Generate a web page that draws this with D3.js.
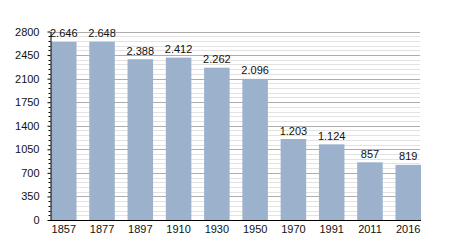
<!DOCTYPE html>
<html>
<head>
<meta charset="utf-8">
<script src="https://cdn.jsdelivr.net/npm/d3@7"></script>
<style>
  body { margin: 0; background: #fff; }
  svg { font-family: "Liberation Sans", Arial, sans-serif; }
</style>
</head>
<body>
<script>
const years = ["1857", "1877", "1897", "1910", "1930", "1950", "1970", "1991", "2011", "2016"];
const population = [2646, 2648, 2388, 2412, 2262, 2096, 1203, 1124, 857, 819];
const yTicks = [0, 350, 700, 1050, 1400, 1750, 2100, 2450, 2800];

const width = 450;
const height = 250;
const svg = d3.select("body").append("svg")
  .attr("width", width)
  .attr("height", height);

const x = d3.scaleBand()
  .domain(years)
  .range([51, 421])
  .paddingInner(0.333)
  .paddingOuter(0);

const y = d3.scaleLinear()
  .domain([0, 2800])
  .range([220, 31.5]);

// minor grid every 70
const minor = d3.range(70, 2801, 70).filter(v => v % 350 !== 0);
svg.append("g").selectAll("line")
  .data(minor)
  .join("line")
  .attr("x1", 50).attr("x2", 420)
  .attr("y1", d => Math.round(y(d)) + 0.5)
  .attr("y2", d => Math.round(y(d)) + 0.5)
  .attr("stroke", "#e2e2e2");

// major grid
svg.append("g").selectAll("line")
  .data(yTicks.slice(1))
  .join("line")
  .attr("x1", 50).attr("x2", 420)
  .attr("y1", d => Math.round(y(d)) + 0.5)
  .attr("y2", d => Math.round(y(d)) + 0.5)
  .attr("stroke", "#adadad");

// bars
svg.append("g").selectAll("rect")
  .data(population)
  .join("rect")
  .attr("x", (d, i) => x(years[i]))
  .attr("width", x.bandwidth())
  .attr("y", d => y(d))
  .attr("height", d => y(0) - y(d))
  .attr("fill", "#9bb1cc");

// value labels
const fmt = d3.formatLocale({ decimal: ",", thousands: ".", grouping: [3], currency: ["", ""] }).format(",d");
svg.append("g").selectAll("text")
  .data(population)
  .join("text")
  .attr("x", (d, i) => x(years[i]) + x.bandwidth() / 2)
  .attr("y", d => y(d) - 4.5)
  .attr("text-anchor", "middle")
  .attr("font-size", 11)
  .attr("fill", "#111")
  .text(d => fmt(d));

// y axis
const yAxis = d3.axisLeft(y).tickValues(yTicks).tickFormat(d3.format("d")).tickSize(3).tickSizeOuter(0);
const gy = svg.append("g")
  .attr("transform", "translate(50.5,0)")
  .call(yAxis);
gy.select(".domain").attr("stroke", "#000");
gy.selectAll(".tick line").attr("stroke", "#000");
gy.selectAll("text").attr("font-size", 11).attr("fill", "#111")
  .attr("font-family", "Liberation Sans, Arial, sans-serif").attr("x", -11);

// minor y ticks
gy.append("g").selectAll("line")
  .data(minor)
  .join("line")
  .attr("x1", -2).attr("x2", 0)
  .attr("y1", d => Math.round(y(d)) + 0.5)
  .attr("y2", d => Math.round(y(d)) + 0.5)
  .attr("stroke", "#000");

// x axis
const xAxis = d3.axisBottom(x).tickSize(0).tickPadding(5);
const gx = svg.append("g")
  .attr("transform", "translate(0,220.5)")
  .call(xAxis);
gx.select(".domain").attr("d", "M50,0H421").attr("stroke", "#000");
gx.selectAll("text").attr("font-size", 11).attr("fill", "#111")
  .attr("font-family", "Liberation Sans, Arial, sans-serif");
</script>
</body>
</html>
